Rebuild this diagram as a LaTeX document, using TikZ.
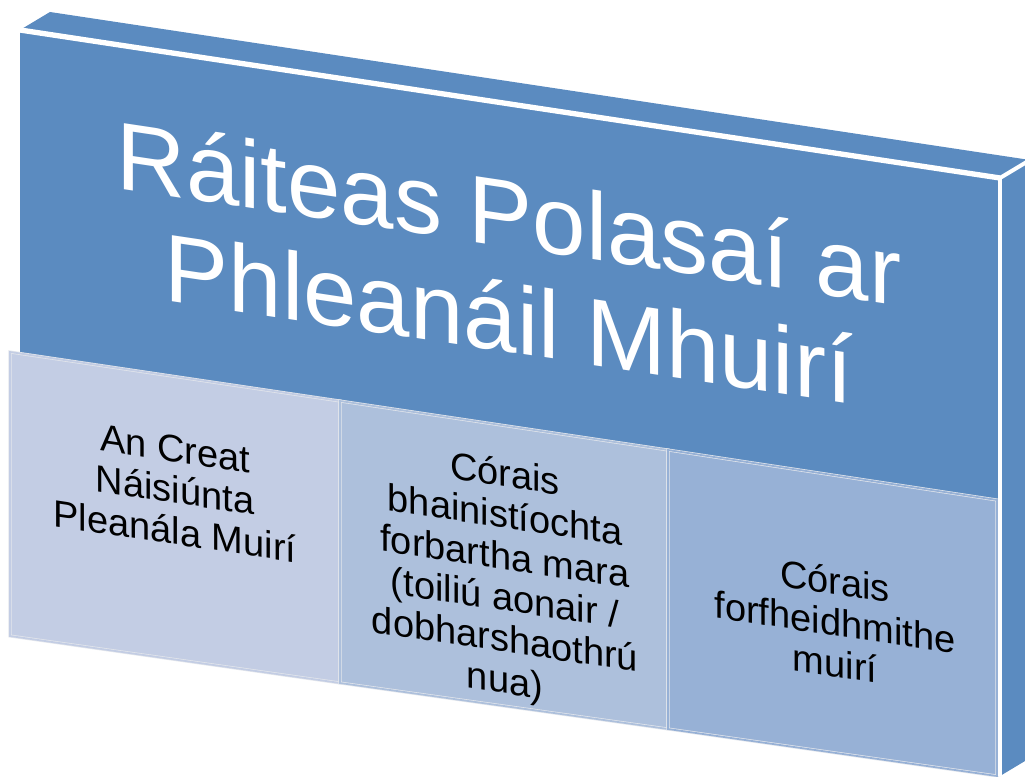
\documentclass[tikz,border=0pt]{standalone}
\usepackage{fontspec}
\setmainfont{Liberation Sans}
\usepackage{tikz}

\definecolor{boardblue}{RGB}{91,139,192}
\definecolor{cellA}{RGB}{195,205,228}
\definecolor{cellB}{RGB}{173,192,220}
\definecolor{cellC}{RGB}{151,177,214}
\definecolor{rim}{RGB}{228,231,236}

\tikzset{
  edge/.style={white,line width=3pt,line join=miter},
  cell/.style={draw=rim,double=#1,double distance=1.3pt,line width=0.5pt,fill=#1},
  celltext/.style={font=\fontsize{28.5}{31}\selectfont,align=center,yslant=-0.15,inner sep=0pt},
  titletext/.style={font=\fontsize{72}{79}\selectfont,text=white,align=center,yslant=-0.15,inner sep=0pt}
}

\begin{document}
\begin{tikzpicture}[x=0.75pt,y=-0.75pt]
        \useasboundingbox (0,0) rectangle (1025,777);
        \clip (0,0) rectangle (1025,777);

        % corners of the board
        \coordinate (TL) at (20,30);
        \coordinate (TR) at (1000,178);
        \coordinate (BR) at (1000,776);
        \coordinate (BL) at (20,636);
        \coordinate (BTL) at (50,12);
        \coordinate (BTR) at (1030,160);
        \coordinate (BBR) at (1030,758);

        \fill[boardblue] (TL) -- (BTL) -- (BTR) -- (TR) -- cycle;
        \fill[boardblue] (TR) -- (BTR) -- (BBR) -- (BR) -- cycle;
        \fill[boardblue] (TL) -- (TR) -- (BR) -- (BL) -- cycle;

        % the three cells
        \draw[cell=cellA] (10,352) -- (340,401) -- (340,683) -- (10,636) -- cycle;
        \draw[cell=cellB] (340,401) -- (668,450) -- (668,729) -- (340,683) -- cycle;
        \draw[cell=cellC] (668,450) -- (997,500) -- (997,776) -- (668,729) -- cycle;

        \draw[edge,line width=4pt] (TL) -- (TR);
        \draw[edge] (TR) -- (BR);
        \draw[edge] (TR) -- (BTR);

        \node[titletext] (title) at (509,265) {Ráiteas Polasaí ar\\Phleanáil Mhuirí};

        \node[celltext] (creat) at (175,490) {An Creat\\Náisiúnta\\Pleanála Muirí};
        \node[celltext] (bainis) at (505,580) {Córais\\bhainistíochta\\forbartha mara\\(toiliú aonair /\\dobharshaothrú\\nua)};
        \node[celltext] (forf) at (835,622) {Córais\\forfheidhmithe\\muirí};
\end{tikzpicture}
\end{document}
